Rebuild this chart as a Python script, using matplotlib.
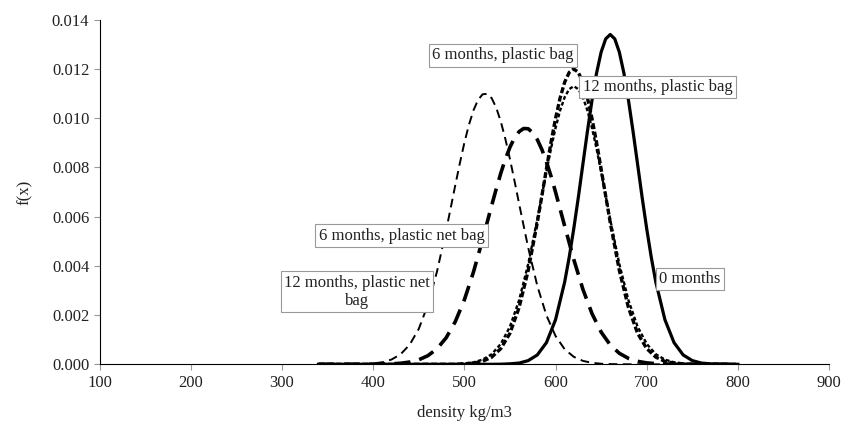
import numpy as np
import matplotlib.pyplot as plt

plt.rcParams['font.family'] = ['Liberation Serif', 'DejaVu Serif']

# density values (kg/m3), step 10
density = list(range(340, 810, 10))

# f(x), one list per storage condition
f_0m = [0, 0, 0, 0, 0, 0, 0, 0, 0, 0, 0, 0, 0, 0, 0, 0, 0, 0, 0, 0,
        0.000004, 0.00002, 0.00005, 0.00015, 0.00038, 0.00088, 0.00181, 0.00334,
        0.00551, 0.00813, 0.01073, 0.01268, 0.01340, 0.01268, 0.01073, 0.00813,
        0.00551, 0.00334, 0.00181, 0.00088, 0.00038, 0.00015, 0.00005, 0.00002,
        0.000004, 0, 0]
f_6m_bag = [0, 0, 0, 0, 0, 0, 0, 0, 0, 0, 0, 0, 0, 0, 0, 0,
            0.00002, 0.00005, 0.00012, 0.00029, 0.00064, 0.00126, 0.00230, 0.00381,
            0.00576, 0.00794, 0.00999, 0.01146, 0.01200, 0.01146, 0.00999, 0.00794,
            0.00576, 0.00381, 0.00230, 0.00126, 0.00064, 0.00029, 0.00012, 0.00005,
            0.00002, 0, 0, 0, 0, 0, 0]
f_12m_bag = [0, 0, 0, 0, 0, 0, 0, 0, 0, 0, 0, 0, 0, 0, 0,
             0.00001, 0.00003, 0.00008, 0.00019, 0.00041, 0.00083, 0.00153, 0.00260,
             0.00407, 0.00588, 0.00783, 0.00960, 0.01085, 0.01130, 0.01085, 0.00960,
             0.00783, 0.00588, 0.00407, 0.00260, 0.00153, 0.00083, 0.00041, 0.00019,
             0.00008, 0.00003, 0.00001, 0, 0, 0, 0, 0]
f_6m_net = [0, 0, 0, 0, 0, 0,
            0.000003, 0.000008, 0.000019, 0.000042, 0.000091, 0.000183, 0.000351,
            0.000632, 0.001076, 0.00173, 0.00262, 0.00375, 0.00507, 0.00646, 0.00777,
            0.00882, 0.00945, 0.00957, 0.00913, 0.00823, 0.00700, 0.00562, 0.00426,
            0.00305, 0.00206, 0.00131, 0.000788, 0.000447, 0.000240, 0.000121,
            0.000058, 0.000026, 0.000011, 0.000005, 0, 0, 0, 0, 0, 0, 0]
f_12m_net = [0, 0, 0,
             0.0000015, 0.0000045, 0.000013, 0.000034, 0.000084, 0.000192, 0.000406,
             0.000795, 0.00144, 0.00242, 0.00377, 0.00544, 0.00727, 0.00900, 0.01032,
             0.01097, 0.01081, 0.00986, 0.00834, 0.00653, 0.00474, 0.00319, 0.00199,
             0.00115, 0.000613, 0.000304, 0.000140, 0.000059, 0.000023, 0.0000085,
             0.000003, 0, 0, 0, 0, 0, 0, 0, 0, 0, 0, 0, 0, 0]

# extra readings between grid points around each peak
px_0m = [615, 625, 635, 645, 655, 665, 675, 685, 695, 705]
pf_0m = [0.00435, 0.00678, 0.00947, 0.01183, 0.01322, 0.01322, 0.01183, 0.00947,
         0.00678, 0.00435]
px_6m_bag = [585, 595, 605, 615, 625, 635, 645, 655]
pf_6m_bag = [0.00684, 0.00901, 0.01082, 0.01186, 0.01186, 0.01082, 0.00901, 0.00684]
px_12m_bag = [585, 595, 605, 615, 625, 635, 645, 655]
pf_12m_bag = [0.00685, 0.00876, 0.01031, 0.01118, 0.01118, 0.01031, 0.00876, 0.00685]
px_6m_net = [535, 545, 555, 565, 575, 585, 595]
pf_6m_net = [0.00713, 0.00834, 0.00920, 0.00958, 0.00941, 0.00873, 0.00765]
px_12m_net = [485, 495, 505, 515, 525, 535, 545, 555]
pf_12m_net = [0.00635, 0.00816, 0.00973, 0.01074, 0.01099, 0.01042, 0.00915, 0.00745]

labels = ['0 months', '6 months, plastic bag', '12 months, plastic bag',
          '6 months, plastic net bag', '12 months, plastic net\nbag']
label_pos = [(747, 0.00347), (542, 0.01255), (712, 0.01127),
             (431, 0.00523), (382, 0.00294)]


def merged(fx, extra_x, extra_f):
    pts = sorted(zip(density + extra_x, fx + extra_f))
    return [p[0] for p in pts], [p[1] for p in pts]


fig = plt.figure(figsize=(8.42, 4.24), dpi=100)
ax = fig.add_axes([0.1184, 0.1408, 0.8662, 0.8127])

x, y = merged(f_12m_net, px_12m_net, pf_12m_net)
ax.plot(x, y, color='black', lw=1.4, linestyle=(0, (4.5, 2.8)))
x, y = merged(f_6m_net, px_6m_net, pf_6m_net)
ax.plot(x, y, color='black', lw=2.6, linestyle=(0, (4.5, 2.5)))
x, y = merged(f_12m_bag, px_12m_bag, pf_12m_bag)
ax.plot(x, y, color='black', lw=1.7, linestyle=(0, (1.6, 1.0)))
x, y = merged(f_6m_bag, px_6m_bag, pf_6m_bag)
ax.plot(x, y, color='black', lw=2.4, linestyle=(0, (1.8, 0.8)))
x, y = merged(f_0m, px_0m, pf_0m)
ax.plot(x, y, color='black', lw=2.3)

for txt, (xx, yy) in zip(labels, label_pos):
    ax.text(xx, yy, txt, ha='center', va='center', fontsize=12, color='#222222',
            bbox=dict(boxstyle='square,pad=0.2', fc='white', ec='#999999', lw=0.8))

ax.set_xlim(100, 900)
ax.set_ylim(0, 0.014)
ax.set_xticks(np.arange(100, 901, 100))
ax.set_yticks(np.arange(0, 0.0141, 0.002))
ax.yaxis.set_major_formatter(plt.FormatStrFormatter('%.3f'))
ax.spines['top'].set_visible(False)
ax.spines['right'].set_visible(False)
ax.tick_params(labelsize=12, length=4, color='#999999', labelcolor='#222222')
ax.set_xlabel('density kg/m3', fontsize=12, color='#222222', labelpad=10)
ax.set_ylabel('f(x)', fontsize=12, color='#222222', labelpad=14)

plt.savefig('out.png', dpi=100)
